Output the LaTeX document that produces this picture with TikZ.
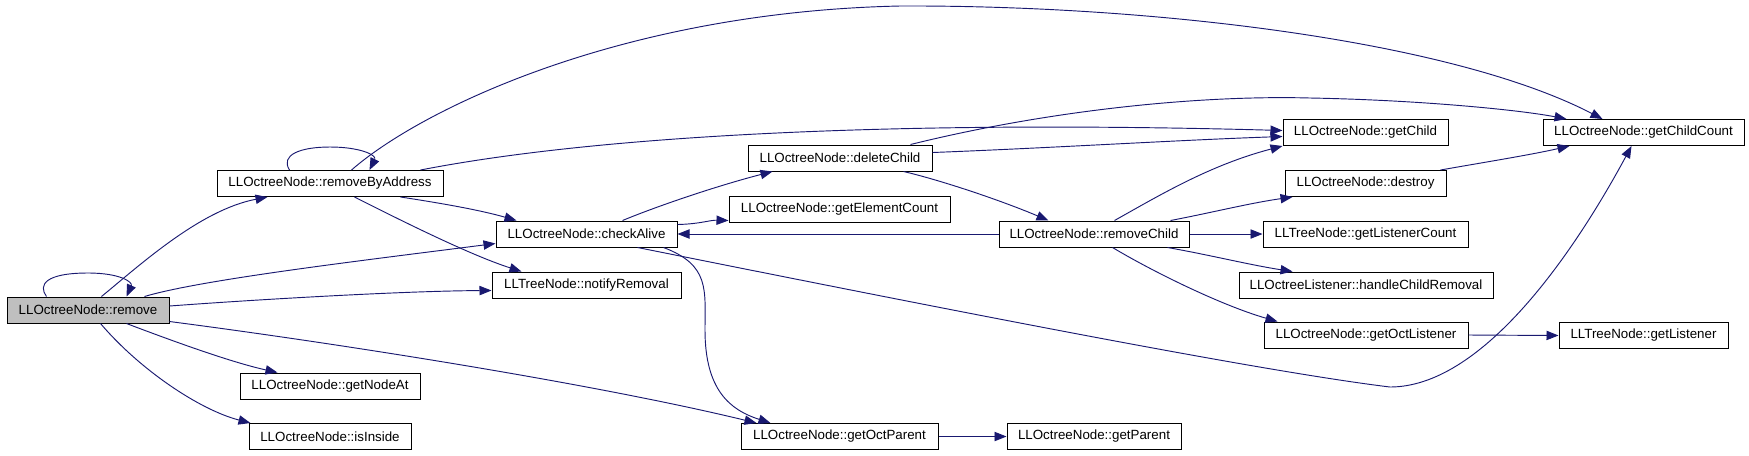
\documentclass[tikz,border=0pt]{standalone}
\usepackage{fontspec}
\setmainfont{Liberation Sans}
\usetikzlibrary{arrows.meta,calc}
\definecolor{edgeblue}{HTML}{191970}
\definecolor{rootgray}{HTML}{BFBFBF}
\begin{document}
\begin{tikzpicture}[x=0.75pt,y=-0.75pt,
  fn/.style={draw=black,line width=0.75pt,rectangle,inner sep=0pt,minimum height=19.5pt,font=\fontsize{10pt}{12pt}\selectfont,fill=white},
  call/.style={draw=edgeblue,line width=0.7pt,-{Triangle[length=9pt,width=7pt]},fill=none},
  callfill/.style={}]
\useasboundingbox (0,0) rectangle (1749,455);
% nodes
\node[fn,fill=rootgray,minimum width=121.5pt] (remove) at (88,310) {LLOctreeNode::remove};
\node[fn,minimum width=169.5pt] (rba) at (330,183.5) {LLOctreeNode::removeByAddress};
\node[fn,minimum width=135pt] (getNodeAt) at (330,386) {LLOctreeNode::getNodeAt};
\node[fn,minimum width=121.5pt] (isInside) at (330,436.5) {LLOctreeNode::isInside};
\node[fn,minimum width=135.75pt] (checkAlive) at (586.5,234) {LLOctreeNode::checkAlive};
\node[fn,minimum width=141.75pt] (notifyRemoval) at (586.5,285) {LLTreeNode::notifyRemoval};
\node[fn,minimum width=138pt] (deleteChild) at (840,158) {LLOctreeNode::deleteChild};
\node[fn,minimum width=165.75pt] (getElementCount) at (839.5,209) {LLOctreeNode::getElementCount};
\node[fn,minimum width=147.75pt] (getOctParent) at (839.5,436.5) {LLOctreeNode::getOctParent};
\node[fn,minimum width=142.5pt] (removeChild) at (1094,234) {LLOctreeNode::removeChild};
\node[fn,minimum width=123.75pt] (getChild) at (1365.5,132.5) {LLOctreeNode::getChild};
\node[fn,minimum width=120.75pt] (destroy) at (1365.5,183.5) {LLOctreeNode::destroy};
\node[fn,minimum width=153.75pt] (getListenerCount) at (1365.5,234) {LLTreeNode::getListenerCount};
\node[fn,minimum width=190.5pt] (handleChildRemoval) at (1366,285) {LLOctreeListener::handleChildRemoval};
\node[fn,minimum width=153pt] (getOctListener) at (1366,335) {LLOctreeNode::getOctListener};
\node[fn,minimum width=130.5pt] (getParent) at (1094,436.5) {LLOctreeNode::getParent};
\node[fn,minimum width=150.75pt] (getChildCount) at (1643.5,132.5) {LLOctreeNode::getChildCount};
\node[fn,minimum width=126.75pt] (getListener) at (1643.5,335.5) {LLTreeNode::getListener};
% edges
\draw[call] ($(remove.north west)+(40,0)$) .. controls (38,285) and (45,273) .. (88,273) .. controls (120,273) and (133,282) .. ($(remove.north west)+(120,0)$);
\draw[call] ($(remove.north west)+(95,0)$) .. controls (140,265) and (200,210) .. ($(rba.south west)+(51,0)$);
\draw[call] ($(remove.north west)+(138,0)$) .. controls (200,280) and (350,262) .. ($(checkAlive.south west)+(0,-4)$);
\draw[call] ($(remove.east)+(0,-4)$) .. controls (250,300) and (400,291) .. ($(notifyRemoval.south west)+(0,-8)$);
\draw[call] ($(remove.south east)+(0,-2)$) .. controls (350,345) and (600,385) .. ($(getOctParent.north west)+(16,0)$);
\draw[call] ($(remove.south west)+(120,0)$) .. controls (170,340) and (230,362) .. ($(getNodeAt.north west)+(38,0)$);
\draw[call] ($(remove.south west)+(94,0)$) .. controls (140,370) and (200,410) .. ($(isInside.north west)+(2,0)$);
\draw[call] ($(rba.north west)+(73,0)$) .. controls (280,155) and (300,147) .. (330,147) .. controls (360,147) and (377,155) .. ($(rba.north west)+(153,0)$);
\draw[call] ($(rba.north west)+(135,0)$) .. controls (420,110) and (620,12) .. (900,6) .. controls (1150,5) and (1450,40) .. ($(getChildCount.north west)+(60,0)$);
\draw[call] ($(rba.north east)+(-23,0)$) .. controls (600,135) and (900,120) .. ($(getChild.west)+(0,-2)$);
\draw[call] ($(rba.south east)+(-43,0)$) .. controls (440,203) and (480,210) .. ($(checkAlive.north west)+(21,0)$);
\draw[call] ($(rba.south west)+(138,0)$) .. controls (400,220) and (470,255) .. ($(notifyRemoval.north west)+(30,0)$);
\draw[call] ($(checkAlive.north west)+(127,0)$) .. controls (660,205) and (720,185) .. ($(deleteChild.south west)+(25,0)$);
\draw[call] ($(checkAlive.north east)+(0,4)$) .. controls (700,224) and (710,220) .. ($(getElementCount.south west)+(0,-2)$);
\draw[call] ($(checkAlive.south west)+(168,0)$) .. controls (710,265) and (705,290) .. (705,330) .. controls (705,390) and (730,410) .. ($(getOctParent.north west)+(30,0)$);
\draw[call] ($(checkAlive.south west)+(142,0)$) .. controls (900,300) and (1250,370) .. (1390,387) .. controls (1480,387) and (1570,260) .. ($(getChildCount.south west)+(89,0)$);
\draw[call] (removeChild.west) -- (checkAlive.east);
\draw[call] ($(deleteChild.south east)+(-29,0)$) .. controls (940,180) and (1000,200) .. ($(removeChild.north west)+(50,0)$);
\draw[call] ($(deleteChild.north east)+(0,8)$) .. controls (1050,148) and (1180,140) .. ($(getChild.west)+(0,4)$);
\draw[call] ($(deleteChild.north east)+(-22,0)$) .. controls (1050,110) and (1200,95) .. (1310,98) .. controls (1420,100) and (1520,110) .. ($(getChildCount.north west)+(24,0)$);
\draw[call] ($(removeChild.north west)+(116,0)$) .. controls (1160,195) and (1210,165) .. (getChild.south west);
\draw[call] ($(removeChild.north east)+(-19,0)$) .. controls (1210,213) and (1250,203) .. ($(destroy.south west)+(8,0)$);
\draw[call] (removeChild.east) -- (getListenerCount.west);
\draw[call] ($(removeChild.south east)+(-22,0)$) .. controls (1210,255) and (1250,265) .. ($(handleChildRemoval.north west)+(54,0)$);
\draw[call] ($(removeChild.south west)+(114,0)$) .. controls (1150,270) and (1220,305) .. ($(getOctListener.north west)+(14,0)$);
\draw[call] ($(destroy.north east)+(-6,0)$) .. controls (1480,163) and (1530,155) .. ($(getChildCount.south west)+(27,0)$);
\draw[call] (getOctListener.east) -- (getListener.west);
\draw[call] (getOctParent.east) -- (getParent.west);
\end{tikzpicture}
\end{document}
